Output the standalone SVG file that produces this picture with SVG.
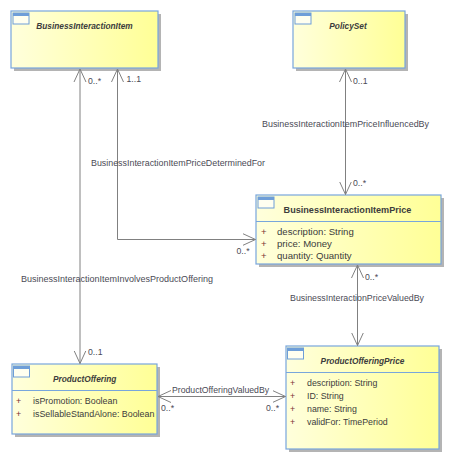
<svg xmlns="http://www.w3.org/2000/svg" width="451" height="460" viewBox="0 0 451 460">
<defs>
<linearGradient id="fillg" x1="0" y1="0" x2="1" y2="0">
<stop offset="0" stop-color="#FFFFDC"/>
<stop offset="1" stop-color="#FFFF96"/>
</linearGradient>
<marker id="oa" viewBox="0 0 14 14" refX="13" refY="7" markerWidth="14" markerHeight="14" markerUnits="userSpaceOnUse" orient="auto-start-reverse">
<path d="M0,1 L13,7 L0,13" fill="none" stroke="#808080" stroke-width="1"/>
</marker>
</defs>
<style>
.shadow{fill:#B4B4B4}
.box{fill:url(#fillg);stroke:#78A6DC;stroke-width:1.2}
.sep{stroke:#78A6DC;stroke-width:1}
.iconb{fill:#FFFFF0;stroke:#6E9ED8;stroke-width:1}
.icont{fill:#6E9ED8}
.title{font-family:"Liberation Sans",Arial,sans-serif;font-weight:bold;fill:#3C3C3C;text-anchor:middle}
.it{font-style:italic;font-size:8.3px}
.attr{font-family:"Liberation Sans",Arial,sans-serif;fill:#3C3C3C}
.plus{font-family:"Liberation Sans",Arial,sans-serif;fill:#7A3030}
.conn{fill:none;stroke:#808080;stroke-width:1}
.lbl{font-family:"Liberation Sans",Arial,sans-serif;font-size:8.7px;fill:#4A4A55}
</style>

<g id="BusinessInteractionItem">
<rect class="shadow" x="14" y="14" width="147" height="57"/>
<rect class="box" x="11" y="11" width="147" height="57"/>
<rect class="iconb" x="13" y="13" width="16" height="11"/>
<rect class="icont" x="13" y="13" width="16" height="3"/>
<text class="title it" x="84.5" y="29">BusinessInteractionItem</text>
</g>

<g id="PolicySet">
<rect class="shadow" x="296" y="14" width="112" height="57"/>
<rect class="box" x="293" y="11" width="112" height="57"/>
<rect class="iconb" x="295" y="13" width="16" height="11"/>
<rect class="icont" x="295" y="13" width="16" height="3"/>
<text class="title it" x="348" y="29">PolicySet</text>
</g>

<g id="BusinessInteractionItemPrice">
<rect class="shadow" x="259" y="198" width="185" height="69"/>
<rect class="box" x="256" y="195" width="185" height="69"/>
<line class="sep" x1="256" y1="221.5" x2="441" y2="221.5"/>
<rect class="iconb" x="258" y="197" width="16" height="11"/>
<rect class="icont" x="258" y="197" width="16" height="3"/>
<text class="title" x="347.5" y="213" font-size="9.1">BusinessInteractionItemPrice</text>
<text class="plus" x="261" y="234.5" font-size="9.6">+</text>
<text class="attr" x="277" y="234.5" font-size="9.6">description: String</text>
<text class="plus" x="261" y="246.5" font-size="9.6">+</text>
<text class="attr" x="277" y="246.5" font-size="9.6">price: Money</text>
<text class="plus" x="261" y="258.5" font-size="9.6">+</text>
<text class="attr" x="277" y="258.5" font-size="9.6">quantity: Quantity</text>
</g>

<g id="ProductOffering">
<rect class="shadow" x="15" y="367" width="145" height="70"/>
<rect class="box" x="12" y="364" width="145" height="70"/>
<line class="sep" x1="12" y1="390.5" x2="157" y2="390.5"/>
<rect class="iconb" x="13.5" y="366" width="16" height="11"/>
<rect class="icont" x="13.5" y="366" width="16" height="3"/>
<text class="title it" x="84.7" y="382">ProductOffering</text>
<text class="plus" x="16" y="404" font-size="8.9">+</text>
<text class="attr" x="33" y="404" font-size="8.9">isPromotion: Boolean</text>
<text class="plus" x="16" y="417" font-size="8.9">+</text>
<text class="attr" x="33" y="417" font-size="8.9">isSellableStandAlone: Boolean</text>
</g>

<g id="ProductOfferingPrice">
<rect class="shadow" x="289" y="349" width="153" height="103"/>
<rect class="box" x="286" y="346" width="153" height="103"/>
<line class="sep" x1="286" y1="372.5" x2="439" y2="372.5"/>
<rect class="iconb" x="287.5" y="348" width="16" height="11"/>
<rect class="icont" x="287.5" y="348" width="16" height="3"/>
<text class="title it" x="362.5" y="364">ProductOfferingPrice</text>
<text class="plus" x="290" y="386" font-size="8.8">+</text>
<text class="attr" x="307" y="386" font-size="8.8">description: String</text>
<text class="plus" x="290" y="399" font-size="8.8">+</text>
<text class="attr" x="307" y="399" font-size="8.8">ID: String</text>
<text class="plus" x="290" y="412" font-size="8.8">+</text>
<text class="attr" x="307" y="412" font-size="8.8">name: String</text>
<text class="plus" x="290" y="425" font-size="8.8">+</text>
<text class="attr" x="307" y="425" font-size="8.8">validFor: TimePeriod</text>
</g>

<g id="connectors">
<path class="conn" d="M80,69 L80,363.5" marker-start="url(#oa)" marker-end="url(#oa)"/>
<path class="conn" d="M117.5,69 L117.5,239.5 L255.5,239.5" marker-start="url(#oa)" marker-end="url(#oa)"/>
<path class="conn" d="M345.5,69 L345.5,194.5" marker-start="url(#oa)" marker-end="url(#oa)"/>
<path class="conn" d="M357.5,265 L357.5,345.5" marker-start="url(#oa)" marker-end="url(#oa)"/>
<path class="conn" d="M158,396.5 L285.5,396.5" marker-start="url(#oa)" marker-end="url(#oa)"/>

<text class="lbl" x="88" y="84">0..*</text>
<text class="lbl" x="126.5" y="82">1..1</text>
<text class="lbl" x="353" y="84">0..1</text>
<text class="lbl" x="353" y="186">0..*</text>
<text class="lbl" x="236.5" y="254">0..*</text>
<text class="lbl" x="365" y="280">0..*</text>
<text class="lbl" x="88" y="355">0..1</text>
<text class="lbl" x="161" y="411">0..*</text>
<text class="lbl" x="266" y="411">0..*</text>

<text class="lbl" x="262" y="127" textLength="167" lengthAdjust="spacingAndGlyphs">BusinessInteractionItemPriceInfluencedBy</text>
<text class="lbl" x="91" y="166" textLength="174" lengthAdjust="spacingAndGlyphs">BusinessInteractionItemPriceDeterminedFor</text>
<text class="lbl" x="21" y="282" textLength="192" lengthAdjust="spacingAndGlyphs">BusinessInteractionItemInvolvesProductOffering</text>
<text class="lbl" x="290" y="301" textLength="134" lengthAdjust="spacingAndGlyphs">BusinessInteractionPriceValuedBy</text>
<text class="lbl" x="172" y="393" textLength="97" lengthAdjust="spacingAndGlyphs">ProductOfferingValuedBy</text>
</g>
</svg>
